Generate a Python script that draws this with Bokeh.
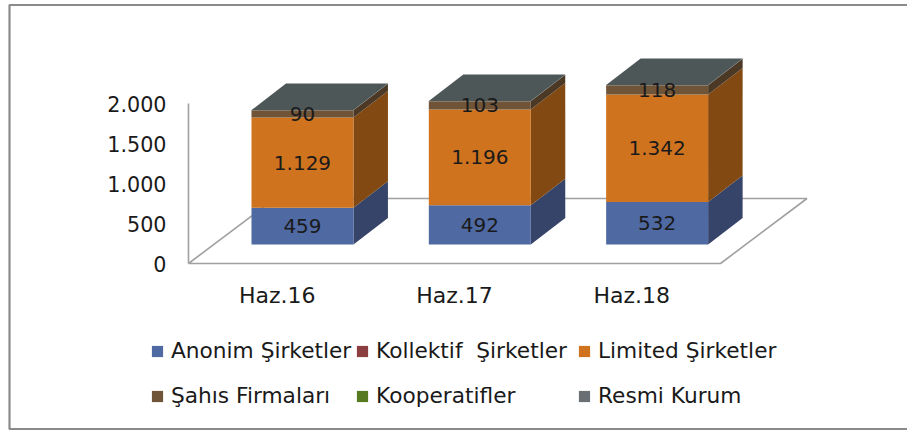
from bokeh.plotting import figure
from bokeh.models import Range1d, Legend, LegendItem
from bokeh.core.properties import value
from bokeh.embed import file_html
from bokeh.resources import INLINE

# ---------------- data ----------------
categories = ["Haz.16", "Haz.17", "Haz.18"]
series_names = ["Anonim Şirketler", "Kollektif  Şirketler", "Limited Şirketler",
                "Şahıs Firmaları", "Kooperatifler", "Resmi Kurum"]
anonim = [459, 492, 532]
kollektif = [0, 0, 0]
limited = [1129, 1196, 1342]
sahis = [90, 103, 118]
kooperatif = [0, 0, 0]
resmi = [2, 2, 2]
labelled_series = [0, 2, 3]
y_ticks = [0, 500, 1000, 1500, 2000]

series_values = [anonim, kollektif, limited, sahis, kooperatif, resmi]

# ---------------- styles ----------------
front_colors = ["#4F69A3", "#8C3F40", "#D0731F", "#705438", "#557A1F", "#6A6F73"]
side_colors = ["#364469", "#5E2A2B", "#824A12", "#4B3926", "#3A5314", "#4E5758"]
top_colors = ["#3E5283", "#703233", "#A85D18", "#5A432D", "#456219", "#4E5758"]
FONT = value("DejaVu Sans")
TXT = "#1A1A1A"

FIG_W, FIG_H = 907, 430
CAT_PX = 177.33          # pixels per category on the front plane
VAL_PX = 0.08            # pixels per unit of value
X0_PX = 188              # screen x of category origin
Y0_PX = 167              # screen y (from bottom) of value 0 on front plane
FLOOR_D = (86.5, 65.0)   # oblique depth of the floor in px
BAR_FRONT = (25.3, 19.0)
BAR_BACK = (59.8, 45.5)
BAR_W = 0.575


def dxu(px):
    return px / CAT_PX


def dyu(px):
    return px / VAL_PX


p = figure(width=FIG_W, height=FIG_H, output_backend="svg", toolbar_location=None,
           x_range=Range1d(-X0_PX / CAT_PX, (FIG_W - X0_PX) / CAT_PX),
           y_range=Range1d(-Y0_PX / VAL_PX, (FIG_H - Y0_PX) / VAL_PX),
           x_axis_location=None, y_axis_location=None, min_border=0,
           outline_line_color=None, background_fill_color="white")
p.grid.visible = False

# outer frame (left, top, bottom)
xl_f = dxu(9 - X0_PX)
xr_f = dxu(FIG_W - X0_PX)
yt_f = dyu(FIG_H - 4.5 - Y0_PX)
yb_f = dyu(1.5 - Y0_PX)
p.line([xr_f, xl_f, xl_f, xr_f], [yt_f, yt_f, yb_f, yb_f], line_color="#8A8A8A", line_width=2.2)

# floor and vertical axis line
n = len(categories)
fdx, fdy = dxu(FLOOR_D[0]), dyu(FLOOR_D[1])
p.line([0, n, n + fdx, fdx, 0], [0, 0, fdy, fdy, 0], line_color="#A0A0A0", line_width=1.6)
p.line([0, 0], [0, y_ticks[-1]], line_color="#A0A0A0", line_width=1.6)

# y tick labels
p.text(x=[dxu(-22)] * len(y_ticks), y=y_ticks,
       text=[f"{t:,}".replace(",", ".") for t in y_ticks],
       text_align="right", text_baseline="middle", text_font=FONT,
       text_font_size="20.7px", text_color=TXT)

# category labels
p.text(x=[i + 0.5 for i in range(n)], y=[dyu(-32)] * n, text=categories,
       text_align="center", text_baseline="middle", text_font=FONT,
       text_font_size="22px", text_color=TXT)

# bars
fx, fy = dxu(BAR_FRONT[0]), dyu(BAR_FRONT[1])
bx, by = dxu(BAR_BACK[0]), dyu(BAR_BACK[1])
bottoms = [0] * n
renderers = []
lab_x, lab_y, lab_t = [], [], []
top_seg = [None] * n
for s, vals in enumerate(series_values):
    lefts, rights, bots, tops = [], [], [], []
    side_xs, side_ys = [], []
    for i in range(n):
        b = bottoms[i]
        t = b + vals[i]
        xl = i + 0.5 - BAR_W / 2
        xr = i + 0.5 + BAR_W / 2
        lefts.append(xl + fx)
        rights.append(xr + fx)
        bots.append(b + fy)
        tops.append(t + fy)
        if vals[i] > 0:
            side_xs.append([xr + fx, xr + bx, xr + bx, xr + fx])
            side_ys.append([b + fy, b + by, t + by, t + fy])
            top_seg[i] = (s, xl, xr, t)
        if s in labelled_series:
            lab_x.append(i + 0.5 + fx)
            lab_y.append((b + t) / 2 + fy)
            lab_t.append(f"{vals[i]:,}".replace(",", "."))
        bottoms[i] = t
    if side_xs:
        p.patches(side_xs, side_ys, fill_color=side_colors[s], line_color=None)
    r = p.quad(left=lefts, right=rights, bottom=bots, top=tops,
               fill_color=front_colors[s], line_color=None)
    renderers.append(r)

# top faces
for i in range(n):
    s, xl, xr, t = top_seg[i]
    p.patch([xl + fx, xr + fx, xr + bx, xl + bx], [t + fy, t + fy, t + by, t + by],
            fill_color=top_colors[s], line_color=None)

p.text(x=lab_x, y=lab_y, text=lab_t, text_align="center", text_baseline="middle",
       text_font=FONT, text_font_size="20px", text_color=TXT)

# legend: three columns of two rows
col_x = [150, 355, 577]
for c in range(3):
    items = [LegendItem(label=series_names[c], renderers=[renderers[c]]),
             LegendItem(label=series_names[c + 3], renderers=[renderers[c + 3]])]
    lg = Legend(items=items, location=(col_x[c], 22), orientation="vertical",
                glyph_width=14, glyph_height=14, label_standoff=7,
                label_text_font="DejaVu Sans", label_text_font_size="21.7px",
                label_text_color=TXT, label_height=24, spacing=20,
                padding=0, margin=0, border_line_color=None,
                background_fill_alpha=0)
    p.add_layout(lg)

open("out.html", "w").write(file_html(p, INLINE))
